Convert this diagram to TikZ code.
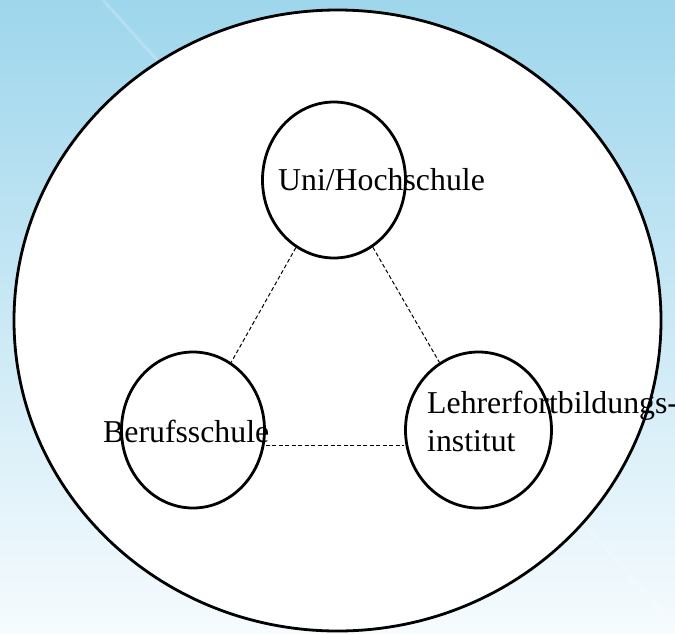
\documentclass[tikz,border=0pt]{standalone}
\usepackage{fontspec}
\setmainfont{Liberation Serif}
\usetikzlibrary{shapes.geometric}

\definecolor{skytop}{HTML}{9ED6EC}
\definecolor{skymid}{HTML}{D2EAF6}
\definecolor{skybot}{HTML}{F6FBFE}

\tikzset{
  outerring/.style={ellipse, draw, line width=2.8pt, fill=white,
    minimum width=647pt, minimum height=621pt, inner sep=0pt},
  partner/.style={ellipse, draw, line width=2.8pt,
    minimum width=143pt, minimum height=156pt, inner sep=0pt},
  label/.style={inner sep=0pt, font=\fontsize{31.8}{38}\selectfont},
  link/.style={draw, line width=1pt, dash pattern=on 4pt off 2.5pt},
  streak/.style={line width=3pt, white, opacity=0.2, line cap=round}
}

\begin{document}
\begin{tikzpicture}[x=1pt, y=-1pt]
  % canvas with soft sky gradient
  \useasboundingbox (0,0) rectangle (675,633);
  \shade[top color=skytop, middle color=skymid, bottom color=skybot]
    (0,0) rectangle (675,633);
  \draw[streak] (103,0) -- (157,60);
  \draw[streak] (585,525) -- (665,615);

  % enclosing region
  \node[outerring] (ring) at (337.5,320.5) {};

  % the three partners
  \node[partner] (uni)    at (334,180) {};
  \node[partner] (schule) at (193,430) {};
  \node[partner, minimum width=146pt] (institut) at (478.5,430) {};

  % dashed cooperation links
  \draw[link] (uni) -- (schule);
  \draw[link] (uni) -- (institut);
  \draw[link] ([yshift=-15pt]schule.east) -- ([yshift=-15pt]institut.west);

  % names
  \node[label, anchor=base west] (tuni) at (278,190) {Uni/Hochschule};
  \node[label, anchor=base west] (tschule) at (103,442) {Berufsschule};
  \node[label, anchor=base west] (tinst1) at (427,413) {Lehrerfortbildungs-};
  \node[label, anchor=base west] (tinst2) at (427,451) {institut};
\end{tikzpicture}
\end{document}
